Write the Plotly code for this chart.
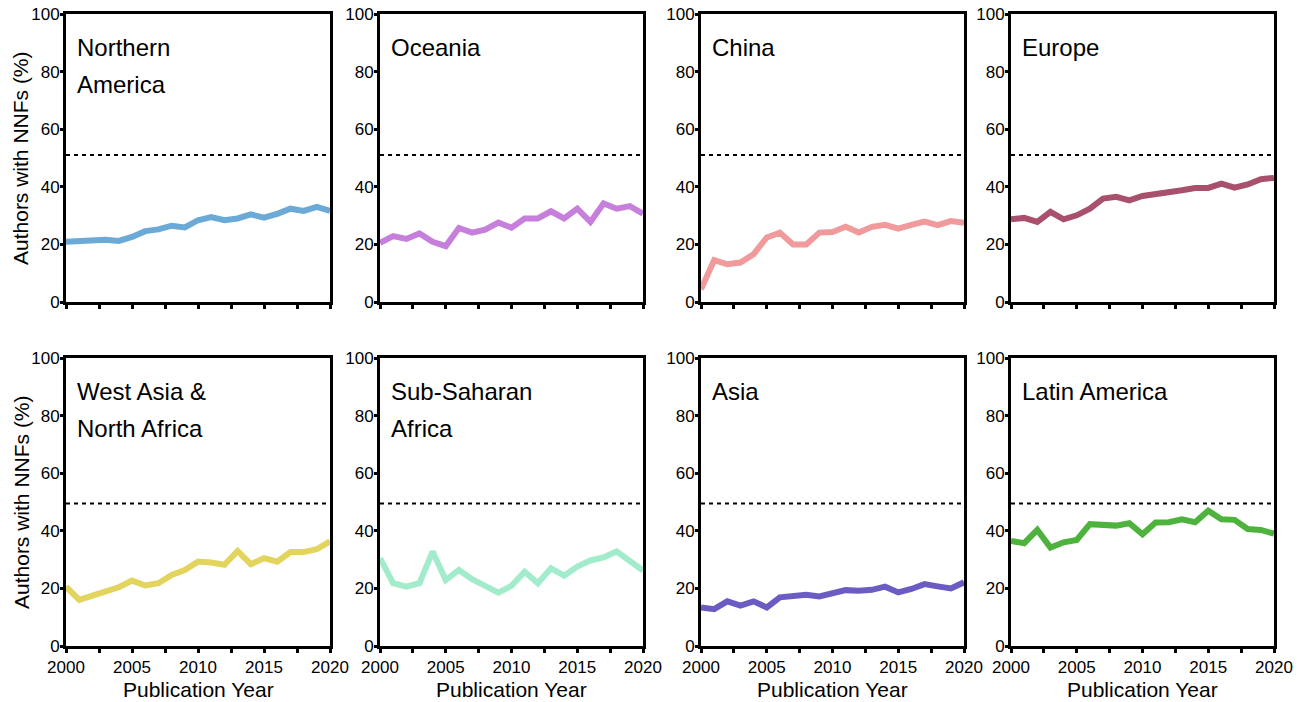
import plotly.graph_objects as go

years = list(range(2000, 2021))

regions = ["Northern\nAmerica", "Oceania", "China", "Europe",
           "West Asia &\nNorth Africa", "Sub-Saharan\nAfrica", "Asia", "Latin America"]

northern_america = [20.9, 21.2, 21.4, 21.6, 21.2, 22.6, 24.6, 25.2, 26.5, 25.9, 28.4,
                    29.5, 28.4, 29.0, 30.4, 29.3, 30.6, 32.4, 31.6, 33.0, 31.6]
oceania = [20.5, 22.9, 21.9, 23.8, 20.9, 19.4, 25.7, 24.1, 25.1, 27.6, 25.8,
           29.0, 29.0, 31.5, 29.0, 32.4, 27.8, 34.2, 32.4, 33.3, 30.7]
china = [4.4, 14.5, 13.1, 13.7, 16.6, 22.4, 24.1, 20.0, 20.0, 24.1, 24.3,
         26.1, 24.1, 26.1, 26.8, 25.5, 26.8, 27.9, 26.7, 28.1, 27.5]
europe = [28.7, 29.2, 27.8, 31.3, 28.7, 30.1, 32.4, 35.9, 36.5, 35.3, 36.8,
          37.3, 37.9, 38.8, 39.6, 39.6, 41.1, 39.7, 40.8, 42.6, 43.1]
west_asia_north_africa = [20.6, 16.0, 17.5, 19.1, 20.4, 22.7, 21.0, 21.8, 24.7, 26.4, 29.3,
                          29.0, 28.2, 33.0, 28.4, 30.5, 29.3, 32.6, 32.6, 33.6, 36.3]
sub_saharan_africa = [30.5, 21.8, 20.6, 21.8, 32.8, 22.9, 26.4, 23.2, 20.9, 18.5, 20.9,
                      25.8, 21.8, 27.0, 24.4, 27.6, 29.7, 30.8, 32.8, 29.5, 26.2]
asia = [13.4, 12.8, 15.5, 14.0, 15.5, 13.4, 16.9, 17.2, 17.8, 17.2, 18.3,
        19.4, 19.2, 19.5, 20.6, 18.6, 19.8, 21.5, 20.7, 20.0, 22.1]
latin_america = [36.5, 35.7, 40.3, 34.2, 36.0, 36.8, 42.3, 42.1, 41.8, 42.6, 38.8,
                 42.9, 43.0, 44.0, 43.0, 47.0, 44.0, 43.8, 40.6, 40.3, 39.0]

series = [northern_america, oceania, china, europe,
          west_asia_north_africa, sub_saharan_africa, asia, latin_america]

reference_level = [51, 51, 51, 51, 49.5, 49.5, 49.5, 49.5]

y_ticks = [0, 20, 40, 60, 80, 100]
x_tickvals = [2000, 2002.5, 2005, 2007.5, 2010, 2012.5, 2015, 2017.5, 2020]
x_ticktext = ["2000", "", "2005", "", "2010", "", "2015", "", "2020"]

x_title = "Publication Year"
y_title = "Authors with NNFs (%)"

colors = ["#6ba9d6", "#c77fdc", "#f19a9b", "#a8506c",
          "#e2d45c", "#a3eccb", "#6b5cc4", "#4db33d"]

W, H = 1302, 702
col_px = [(66, 330), (380, 643), (701, 964), (1011, 1274)]
row_px = [(14, 302), (358, 646)]

FONT = "Arial, Liberation Sans, Helvetica, sans-serif"

fig = go.Figure()
layout = dict(
    width=W, height=H, autosize=False,
    margin=dict(l=0, r=0, t=0, b=0),
    paper_bgcolor="white", plot_bgcolor="white",
    showlegend=False,
    font=dict(family=FONT, color="black"),
)
annotations = []
shapes = []

for i, (name, vals) in enumerate(zip(regions, series)):
    r, c = divmod(i, 4)
    n = i + 1
    xa = "x" if n == 1 else f"x{n}"
    ya = "y" if n == 1 else f"y{n}"
    xkey = "xaxis" if n == 1 else f"xaxis{n}"
    ykey = "yaxis" if n == 1 else f"yaxis{n}"
    x0, x1 = col_px[c]
    t, b = row_px[r]
    layout[xkey] = dict(
        domain=[x0 / W, x1 / W], anchor=ya, range=[2000, 2020],
        showline=True, mirror=True, linecolor="black", linewidth=3,
        showgrid=False, zeroline=False,
        ticks="outside", ticklen=4, tickwidth=2.5, tickcolor="black",
        tickmode="array", tickvals=x_tickvals, ticktext=x_ticktext,
        showticklabels=(r == 1), tickfont=dict(size=17, family=FONT, color="black"),
        ticklabeloverflow="allow",
        automargin=False,
    )
    layout[ykey] = dict(
        domain=[1 - b / H, 1 - t / H], anchor=xa, range=[0, 100],
        showline=True, mirror=True, linecolor="black", linewidth=3,
        showgrid=False, zeroline=False,
        ticks="outside", ticklen=3, tickwidth=2.5, tickcolor="black",
        tickmode="array", tickvals=y_ticks,
        tickfont=dict(size=17, family=FONT, color="black"),
        ticklabelstandoff=-3, ticklabeloverflow="allow",
        automargin=False,
    )

    fig.add_trace(go.Scatter(
        x=years, y=vals, mode="lines", xaxis=xa, yaxis=ya,
        line=dict(color=colors[i], width=6), hoverinfo="x+y", name=name.replace("\n", " "),
    ))

    shapes.append(dict(
        type="line", xref=xa, yref=ya, x0=2000, x1=2020,
        y0=reference_level[i], y1=reference_level[i],
        line=dict(color="black", width=2, dash="4px,4px"),
    ))

    for k, line in enumerate(name.split("\n")):
        annotations.append(dict(
            text=line, xref=f"{xa} domain", yref=f"{ya} domain",
            x=0, y=1, xanchor="left", yanchor="middle",
            xshift=9, yshift=-33 - 37 * k, showarrow=False,
            font=dict(size=24, family=FONT, color="black"),
        ))

    if r == 1:
        annotations.append(dict(
            text=x_title, xref="paper", yref="paper",
            x=(x0 + x1) / 2 / W, y=1 - 689 / H, xanchor="center", yanchor="middle",
            showarrow=False, font=dict(size=21, family=FONT, color="black"),
        ))
    if c == 0:
        annotations.append(dict(
            text=y_title, xref="paper", yref="paper", textangle=-90,
            x=21 / W, y=1 - (t + b) / 2 / H, xanchor="center", yanchor="middle",
            showarrow=False, font=dict(size=21, family=FONT, color="black"),
        ))

layout["annotations"] = annotations
layout["shapes"] = shapes
fig.update_layout(**layout)
fig.write_html("out.html", config={"displayModeBar": False},
               post_script="document.body.style.margin='0px';")
